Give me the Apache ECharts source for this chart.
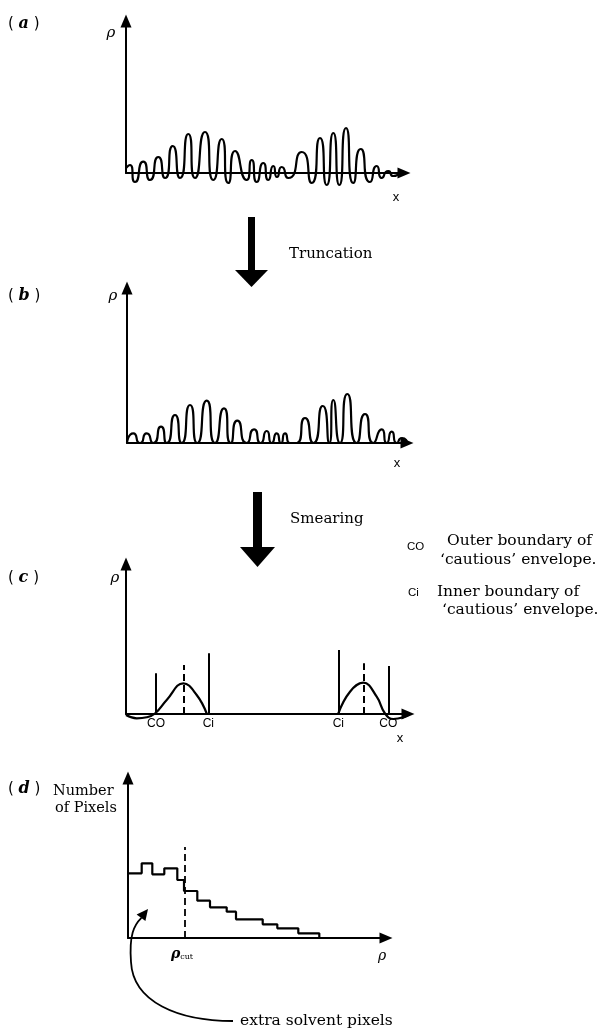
<!DOCTYPE html>
<html>
<head>
<meta charset="utf-8">
<script src="https://cdn.jsdelivr.net/npm/echarts@6/dist/echarts.min.js"></script>
<style>
html,body{margin:0;padding:0;background:#fff;}
#chart{width:609px;height:1028px;}
</style>
</head>
<body>
<div id="chart"></div>
<script>
// ---- Panel (a): density with ripples (extrema) ----
const aX = [0,4,9,17.3,24,32.3,39,46.7,54,62.3,69,79,87.3,95.7,102.3,109,120.7,125.7,130.7,137.3,142.3,147.3,151,155.7,162.3,175.7,185.7,194,200.7,207.3,213.3,220,227.3,234.7,244,250.7,255.7,262.3,267.3,273];
const aY = [5,8,-9,11.3,-7,16,-5,27,-5,39,-5,41,-7,34,-10,22,-7,13,-9,10,-7,7,-4,6,-5,21,-10,35,-12,40,-12,45,-10,24,-9,7,-5,2,-3,0];

// ---- Panel (b): truncated density ----
const bX = [0,6.3,13,19.7,26.3,34,39.7,48,54.7,63,70.3,79.7,88,97,103.7,110.3,119.7,127,133.7,139.7,144.7,149.7,154,158,163,169.7,178,186.3,195.7,202.3,206.3,213,220.3,229.7,238,246.3,254.7,259.7,264.7,269.7,275,280];
const bY = [0,9.7,0,9.7,0,16.3,0,28,0,38,0,42.3,0,34.7,0,22.3,0,13.7,0,12,0,9.7,0,9.7,0,0,25,0,37,0,43,0,49,0,29,0,13.7,0,11.3,0,5,1];

// ---- Panel (c): smeared density, two humps ----
const cLeftX = [0,10.7,20.7,29,40.7,57.3,70.7,80.7];
const cLeftY = [-1,-4.3,-3.3,0.5,14,30.7,19,0.5];
const cRightX = [212.3,224,237.3,250.7,259,267.3,277.3,284];
const cRightY = [0.5,22.3,31.3,17.3,0.5,-5,-3.3,0];
const coX = [30,262.3], coTop = [40.7,48];
const ciX = [82.3,212.3], ciTop = [60.7,64];
const peakX = [57.3,237.3], peakTop = [49,50.7];

// ---- Panel (d): histogram of pixel densities ----
const dEdges = [0,13.7,24.3,36.3,49.3,56,69.3,82,98.7,108,134.7,149.3,170.3,191.3];
const dCounts = [64.7,74.7,63.7,69.7,58,47,37.3,30.7,26.3,18.7,13.7,9.7,4.7];
const dCutX = 57, dCutTop = 91;

const pairs = (xs, ys) => xs.map((x, i) => [x, ys[i]]);
const histPts = [];
dCounts.forEach((h, i) => { histPts.push([dEdges[i], h]); histPts.push([dEdges[i + 1], h]); });
histPts.push([dEdges[dEdges.length - 1], 0]);

const grids = [
  {left:126, top:21, width:278, height:152},
  {left:127, top:288, width:280, height:155},
  {left:126, top:564, width:282, height:150},
  {left:128, top:778, width:258, height:160}
];
const axLine = {show:true, onZero:true, symbol:['none','triangle'], symbolSize:[11,13], lineStyle:{color:'#000', width:2}};
const xAxes = grids.map((g, i) => ({gridIndex:i, type:'value', min:0, max:g.width, axisLine:axLine, axisTick:{show:false}, axisLabel:{show:false}, splitLine:{show:false}}));
const yAxes = grids.map((g, i) => ({gridIndex:i, type:'value', min:0, max:g.height, axisLine:axLine, axisTick:{show:false}, axisLabel:{show:false}, splitLine:{show:false}}));

const lineBase = {type:'line', showSymbol:false, symbol:'none', clip:false, silent:true, animation:false, lineStyle:{color:'#000', width:2.2}};
const vLines = (xs, tops, names) => xs.map((x, i) => [
  {name: names ? names[i] : '', coord:[x, 0]}, {coord:[x, tops[i]]}
]);
const mlLabel = {show:true, position:'start', distance:4, formatter:'{b}', fontFamily:'Liberation Sans', fontSize:12, color:'#000'};

const series = [
  Object.assign({}, lineBase, {xAxisIndex:0, yAxisIndex:0, smooth:0.85, data:pairs(aX, aY)}),
  Object.assign({}, lineBase, {xAxisIndex:1, yAxisIndex:1, smooth:0.85, data:pairs(bX, bY)}),
  Object.assign({}, lineBase, {xAxisIndex:2, yAxisIndex:2, smooth:0.45, data:pairs(cLeftX, cLeftY),
    markLine:{silent:true, symbol:'none', animation:false, lineStyle:{color:'#000', width:2, type:'solid'}, label:mlLabel,
      data:[vLines([coX[0]],[coTop[0]],['CO'])[0], vLines([ciX[0]],[ciTop[0]],['Ci'])[0]]}}),
  Object.assign({}, lineBase, {xAxisIndex:2, yAxisIndex:2, smooth:0.45, data:pairs(cRightX, cRightY),
    markLine:{silent:true, symbol:'none', animation:false, lineStyle:{color:'#000', width:2, type:'solid'}, label:mlLabel,
      data:[vLines([ciX[1]],[ciTop[1]],['Ci'])[0], vLines([coX[1]],[coTop[1]],['CO'])[0]]}}),
  Object.assign({}, lineBase, {xAxisIndex:2, yAxisIndex:2, data:[],
    markLine:{silent:true, symbol:'none', animation:false, lineStyle:{color:'#000', width:2, type:[7,4]}, label:{show:false},
      data:vLines(peakX, peakTop)}}),
  Object.assign({}, lineBase, {xAxisIndex:3, yAxisIndex:3, smooth:false, data:histPts,
    markLine:{silent:true, symbol:'none', animation:false, lineStyle:{color:'#000', width:1.8, type:[7,4]}, label:{show:false},
      data:vLines([dCutX],[dCutTop])}})
];

const serif = 'DejaVu Serif';
const txt = (x, y, text, o) => ({type:'text', x, y, silent:true, style:Object.assign({text, fill:'#000', fontFamily:serif, fontSize:15, align:'left', verticalAlign:'middle'}, o || {})});
const panelLabel = (y, ch) => ({type:'text', x:8, y, silent:true, style:{
  text:'( {i|' + ch + '} )', fill:'#000', fontFamily:'DejaVu Sans', fontSize:15, verticalAlign:'middle',
  rich:{i:{fontFamily:'DejaVu Serif', fontStyle:'italic', fontWeight:'bold', fontSize:16}}}});

const graphic = [
  panelLabel(24,'a'), panelLabel(296,'b'), panelLabel(578,'c'), panelLabel(789,'d'),
  txt(111,33,'ρ',{fontStyle:'italic', fontSize:15, align:'center'}),
  txt(113,296,'ρ',{fontStyle:'italic', fontSize:15, align:'center'}),
  txt(115,578,'ρ',{fontStyle:'italic', fontSize:15, align:'center'}),
  txt(396,197,'x',{fontFamily:'Liberation Sans', fontSize:13, align:'center'}),
  txt(397,463,'x',{fontFamily:'Liberation Sans', fontSize:13, align:'center'}),
  txt(400,738,'x',{fontFamily:'Liberation Sans', fontSize:13, align:'center'}),
  txt(382,956,'ρ',{fontStyle:'italic', fontSize:14, align:'center'}),
  {type:'text', x:182, y:954, silent:true, style:{text:'ρ{s|cut}', fill:'#000', fontFamily:serif, fontStyle:'italic', fontWeight:'bold', fontSize:14, align:'center', verticalAlign:'middle', rich:{s:{fontSize:8, fontFamily:serif, verticalAlign:'bottom', padding:[6,0,0,0]}}}},
  txt(53,791,'Number',{fontSize:14.5}),
  txt(55,808,'of Pixels',{fontSize:14.5}),
  txt(289,254,'Truncation',{fontSize:15}),
  txt(290,519,'Smearing',{fontSize:15}),
  txt(407,547,'CO',{fontFamily:'Liberation Sans', fontSize:11.5}),
  txt(447,541,'Outer boundary of',{fontSize:15.5}),
  txt(440,560,'‘cautious’ envelope.',{fontSize:15.5}),
  txt(408,593,'Ci',{fontFamily:'Liberation Sans', fontSize:11.5}),
  txt(437,592,'Inner boundary of',{fontSize:15.5}),
  txt(442,610,'‘cautious’ envelope.',{fontSize:15.5}),
  txt(240,1021,'extra solvent pixels',{fontSize:15.5}),
  // big process arrows
  {type:'rect', silent:true, shape:{x:248, y:217, width:7, height:54}, style:{fill:'#000'}},
  {type:'polygon', silent:true, shape:{points:[[235,270],[268,270],[251.5,287]]}, style:{fill:'#000'}},
  {type:'rect', silent:true, shape:{x:253, y:492, width:9, height:56}, style:{fill:'#000'}},
  {type:'polygon', silent:true, shape:{points:[[240,547],[275,547],[257.5,567]]}, style:{fill:'#000'}},
  // curved annotation arrow
  {type:'bezierCurve', silent:true, shape:{x1:233, y1:1021, cpx1:178, cpy1:1021, cpx2:133, cpy2:1002, x2:131, y2:962}, style:{stroke:'#000', lineWidth:1.8, fill:null}},
  {type:'bezierCurve', silent:true, shape:{x1:131, y1:962, cpx1:129, cpy1:935, cpx2:134, cpy2:925, x2:141.4, y2:917.8}, style:{stroke:'#000', lineWidth:1.8, fill:null}},
  {type:'polygon', silent:true, shape:{points:[[148,909],[145.4,921],[136.6,914.4]]}, style:{fill:'#000'}}
];

const chart = echarts.init(document.getElementById('chart'), null, {renderer:'canvas'});
chart.setOption({
  backgroundColor:'#fff',
  animation:false,
  grid:grids,
  xAxis:xAxes,
  yAxis:yAxes,
  series:series,
  graphic:graphic
});
</script>
</body>
</html>
